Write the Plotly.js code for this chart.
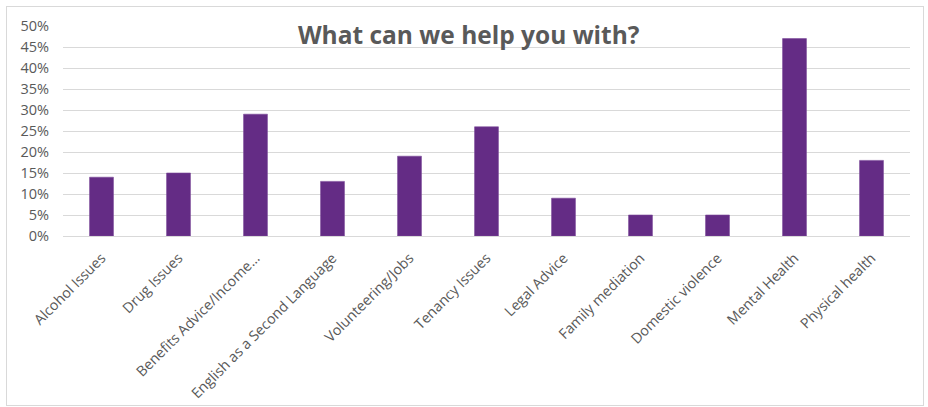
<!DOCTYPE html>
<html>
<head>
<meta charset="utf-8">
<script src="https://cdn.plot.ly/plotly-3.0.1.min.js"></script>
<style>
html,body{margin:0;padding:0;background:#fff;}
#wrap{position:relative;width:928px;height:407px;}
#chart{width:928px;height:407px;}
#frame{position:absolute;left:6px;top:6px;width:918px;height:400px;border:1px solid #d9d9d9;box-sizing:border-box;pointer-events:none;}
</style>
</head>
<body>
<div id="wrap"><div id="chart"></div><div id="frame"></div></div>
<script>
const categories = ["Alcohol Issues","Drug Issues","Benefits Advice/Income…","English as a Second Language","Volunteering/Jobs","Tenancy Issues","Legal Advice","Family mediation","Domestic violence","Mental Health","Physical health"];
const values = [0.14,0.15,0.29,0.13,0.19,0.26,0.09,0.05,0.05,0.47,0.18];
const yTicks = [0,0.05,0.10,0.15,0.20,0.25,0.30,0.35,0.40,0.45,0.50];
const yTickLabels = ["0%","5%","10%","15%","20%","25%","30%","35%","40%","45%","50%"];
const titleText = "What can we help you with?";

const trace = {
  type: "bar",
  x: categories,
  y: values,
  marker: {color: "#642C85", line: {color: "#7a4898", width: 0.6}},
  width: 0.31,
  hoverinfo: "x+y"
};

const layout = {
  width: 928, height: 407,
  margin: {l: 63, r: 18, t: 26, b: 171},
  paper_bgcolor: "#fff",
  plot_bgcolor: "#fff",
  showlegend: false,
  title: {
    text: "<b>" + titleText + "</b>",
    font: {family: "Open Sans, sans-serif", size: 24.5, color: "#595959"},
    x: 0.479, xref: "paper", xanchor: "center",
    y: 1 - 35.5/407, yref: "container", yanchor: "middle"
  },
  xaxis: {
    type: "category",
    tickangle: -45,
    tickfont: {family: "Open Sans, sans-serif", size: 14.3, color: "#595959"},
    showgrid: false,
    showline: false,
    zeroline: false,
    ticks: "",
    ticklabelstandoff: 10
  },
  yaxis: {
    range: [0, 0.5],
    tickvals: yTicks,
    ticktext: yTickLabels,
    tickfont: {family: "Open Sans, sans-serif", size: 14.5, color: "#595959"},
    gridcolor: "#d9d9d9",
    gridwidth: 1,
    zeroline: true,
    zerolinecolor: "#d9d9d9",
    zerolinewidth: 1,
    showline: false,
    ticks: "",
    ticklabelstandoff: 13
  }
};

Plotly.newPlot("chart", [trace], layout, {displayModeBar: false, staticPlot: true});
</script>
</body>
</html>
